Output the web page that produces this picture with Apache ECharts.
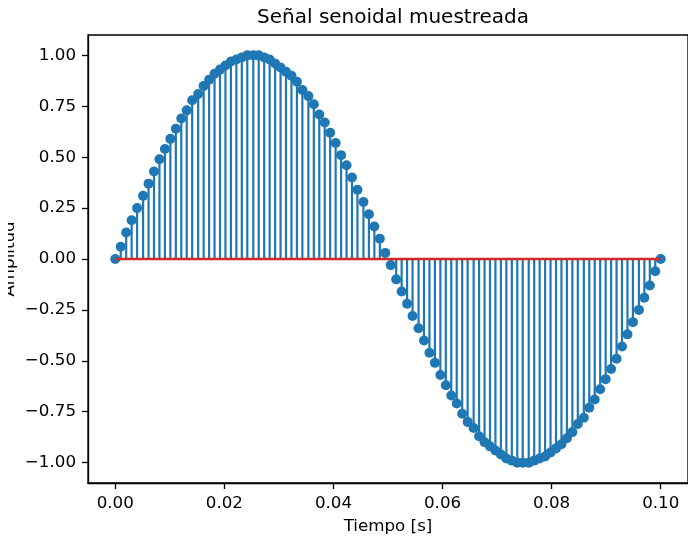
<!DOCTYPE html>
<html>
<head>
<meta charset="utf-8">
<title>Señal senoidal muestreada</title>
<script src="https://cdn.jsdelivr.net/npm/echarts@6/dist/echarts.min.js"></script>
<style>
    html, body { margin: 0; padding: 0; background: #fff; }
    #main { width: 688px; height: 536px; }
</style>
</head>
<body>
<div id="main"></div>
<script>
// instantes de muestreo [s]
var tiempo = [
    0.0000, 0.0010, 0.0020, 0.0030, 0.0040, 0.0051, 0.0061, 0.0071, 0.0081, 0.0091,
    0.0101, 0.0111, 0.0121, 0.0131, 0.0141, 0.0152, 0.0162, 0.0172, 0.0182, 0.0192,
    0.0202, 0.0212, 0.0222, 0.0232, 0.0242, 0.0253, 0.0263, 0.0273, 0.0283, 0.0293,
    0.0303, 0.0313, 0.0323, 0.0333, 0.0343, 0.0354, 0.0364, 0.0374, 0.0384, 0.0394,
    0.0404, 0.0414, 0.0424, 0.0434, 0.0444, 0.0455, 0.0465, 0.0475, 0.0485, 0.0495,
    0.0505, 0.0515, 0.0525, 0.0535, 0.0545, 0.0556, 0.0566, 0.0576, 0.0586, 0.0596,
    0.0606, 0.0616, 0.0626, 0.0636, 0.0646, 0.0657, 0.0667, 0.0677, 0.0687, 0.0697,
    0.0707, 0.0717, 0.0727, 0.0737, 0.0747, 0.0758, 0.0768, 0.0778, 0.0788, 0.0798,
    0.0808, 0.0818, 0.0828, 0.0838, 0.0848, 0.0859, 0.0869, 0.0879, 0.0889, 0.0899,
    0.0909, 0.0919, 0.0929, 0.0939, 0.0949, 0.0960, 0.0970, 0.0980, 0.0990, 0.1000
];

// amplitud de cada muestra
var amplitud = [
    0.00, 0.06, 0.13, 0.19, 0.25, 0.31, 0.37, 0.43, 0.49, 0.54,
    0.59, 0.64, 0.69, 0.73, 0.78, 0.81, 0.85, 0.88, 0.91, 0.93,
    0.95, 0.97, 0.98, 0.99, 1.00, 1.00, 1.00, 0.99, 0.98, 0.96,
    0.94, 0.92, 0.90, 0.87, 0.83, 0.80, 0.76, 0.71, 0.67, 0.62,
    0.57, 0.51, 0.46, 0.40, 0.34, 0.28, 0.22, 0.16, 0.10, 0.03,
    -0.03, -0.10, -0.16, -0.22, -0.28, -0.34, -0.40, -0.46, -0.51, -0.57,
    -0.62, -0.67, -0.71, -0.76, -0.80, -0.83, -0.87, -0.90, -0.92, -0.94,
    -0.96, -0.98, -0.99, -1.00, -1.00, -1.00, -0.99, -0.98, -0.97, -0.95,
    -0.93, -0.91, -0.88, -0.85, -0.81, -0.78, -0.73, -0.69, -0.64, -0.59,
    -0.54, -0.49, -0.43, -0.37, -0.31, -0.25, -0.19, -0.13, -0.06, 0.00
];

// marcas de los ejes
var xTicks = [0, 0.02, 0.04, 0.06, 0.08, 0.10];
var yTicks = [-1, -0.75, -0.5, -0.25, 0, 0.25, 0.5, 0.75, 1];

var azul = '#1f77b4';
var rojo = '#d62728';
var fuente = 'DejaVu Sans';

var puntos = [];
for (var i = 0; i < tiempo.length; i++) {
    puntos.push([tiempo[i], amplitud[i]]);
}
var lineaBase = [[tiempo[0], 0], [tiempo[tiempo.length - 1], 0]];

function fmt(v) {
    var s = Math.abs(v).toFixed(2);
    return v < 0 ? '\u2212' + s : s;
}

var chart = echarts.init(document.getElementById('main'), null, {renderer: 'canvas'});

var option = {
    animation: false,
    backgroundColor: '#fff',
    textStyle: {
        fontFamily: fuente
    },
    title: {
        text: 'Señal senoidal muestreada',
        left: 388,
        top: 3,
        textAlign: 'center',
        textStyle: {
            fontFamily: fuente,
            fontSize: 20,
            fontWeight: 'normal',
            color: '#000'
        }
    },
    grid: {
        left: 88,
        top: 35,
        width: 600,
        height: 448,
        show: true,
        borderColor: '#000',
        borderWidth: 1.3,
        containLabel: false,
        outerBoundsMode: 'none'
    },
    xAxis: {
        type: 'value',
        min: -0.005,
        max: 0.105,
        name: 'Tiempo [s]',
        nameLocation: 'middle',
        nameGap: 35,
        nameMoveOverlap: false,
        nameTextStyle: {
            fontFamily: fuente,
            fontSize: 16.7,
            color: '#000'
        },
        axisLine: {
            show: true,
            onZero: false,
            lineStyle: { color: '#000', width: 1.3 }
        },
        axisTick: {
            show: true,
            length: 6,
            customValues: xTicks,
            lineStyle: { color: '#000', width: 1.3 }
        },
        axisLabel: {
            customValues: xTicks,
            margin: 12,
            fontFamily: fuente,
            fontSize: 16.7,
            color: '#000',
            formatter: fmt
        },
        splitLine: { show: false }
    },
    yAxis: {
        type: 'value',
        min: -1.1,
        max: 1.1,
        name: 'Amplitud',
        nameLocation: 'middle',
        nameRotate: 90,
        nameGap: 70,
        nameMoveOverlap: false,
        nameTextStyle: {
            fontFamily: fuente,
            fontSize: 16.7,
            color: '#000'
        },
        axisLine: {
            show: true,
            onZero: false,
            lineStyle: { color: '#000', width: 1.3 }
        },
        axisTick: {
            show: true,
            length: 6,
            customValues: yTicks,
            lineStyle: { color: '#000', width: 1.3 }
        },
        axisLabel: {
            customValues: yTicks,
            margin: 12,
            fontFamily: fuente,
            fontSize: 16.7,
            color: '#000',
            formatter: fmt
        },
        splitLine: { show: false }
    },
    // el rotulo del eje y aparece recortado en el original
    graphic: [
        {
            type: 'rect',
            z: 100,
            shape: { x: 0, y: 180, width: 8, height: 160 },
            style: { fill: '#fff' }
        }
    ],
    series: [
        {
            // tallos
            type: 'custom',
            z: 2,
            data: puntos,
            renderItem: function (params, api) {
                var p0 = api.coord([api.value(0), 0]);
                var p1 = api.coord([api.value(0), api.value(1)]);
                return {
                    type: 'line',
                    shape: { x1: p0[0], y1: p0[1], x2: p1[0], y2: p1[1] },
                    style: { stroke: azul, lineWidth: 2.2 }
                };
            }
        },
        {
            // marcadores
            type: 'scatter',
            z: 3,
            data: puntos,
            symbol: 'circle',
            symbolSize: 10,
            itemStyle: { color: azul, opacity: 1 }
        },
        {
            // linea base
            type: 'line',
            z: 4,
            data: lineaBase,
            symbol: 'none',
            lineStyle: { color: rojo, width: 2.5 }
        }
    ]
};

chart.setOption(option, true);
</script>
</body>
</html>
